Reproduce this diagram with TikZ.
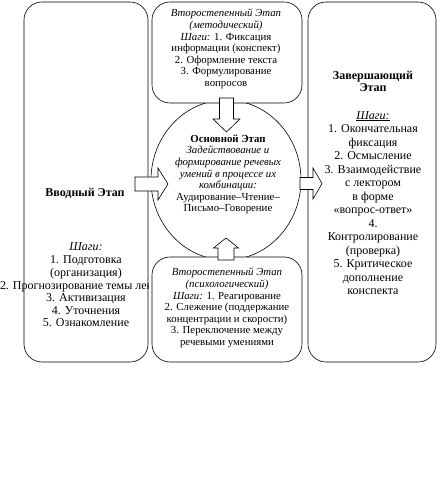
\documentclass[tikz,border=0pt]{standalone}
\usepackage{fontspec}
\setmainfont{Liberation Serif}
\usetikzlibrary{shapes.geometric}

\begin{document}
\begin{tikzpicture}[x=1pt,y=1pt,
  stagebox/.style={draw=drawColor,line width=0.6pt,fill=fillColor,rounded corners=18pt,inner sep=0pt,outer sep=0pt},
  corestage/.style={ellipse,draw=drawColor,line width=0.6pt,fill=fillColor,inner sep=0pt,outer sep=0pt},
  blockarrow/.style={draw=drawColor,line width=0.6pt,fill=fillColor,line join=miter},
  sidetext/.style={text=drawColor,align=center,inner sep=0pt,outer sep=0pt,font=\fontsize{12}{12.7}\selectfont},
  midtext/.style={text=drawColor,align=center,inner sep=0pt,outer sep=0pt,font=\fontsize{10.8}{11.6}\selectfont}
]
\definecolor{fillColor}{RGB}{255,255,255}
\definecolor{drawColor}{RGB}{0,0,0}
\path[use as bounding box,fill=fillColor] (0,0) rectangle (440,488);

% main stage, behind the two small boxes
\node[corestage,minimum width=150pt,minimum height=160pt] (core) at (226,308) {};

% the four boxes
\node[stagebox,minimum width=124pt,minimum height=360pt] (intro) at (86,306) {};
\node[stagebox,minimum width=150pt,minimum height=101pt] (method) at (227,435.5) {};
\node[stagebox,minimum width=150pt,minimum height=105pt] (psych) at (227,178.5) {};
\node[stagebox,minimum width=128pt,minimum height=360pt] (final) at (372,306) {};

% block arrows, from a named tail
\coordinate (introtail) at (135,304);
\coordinate (coretail) at (300,304.5);
\coordinate (methodtail) at (226.5,390);
\coordinate (psychtail) at (226,228);

\path[blockarrow] ([yshift=-7]introtail) -- ++(23,0) -- ++(0,-9) -- ++(10,16) -- ++(-10,16) -- ++(0,-9) -- ++(-23,0) -- cycle;
\path[blockarrow] ([yshift=-6]coretail) -- ++(13,0) -- ++(0,-9.5) -- ++(9,15.5) -- ++(-9,15.5) -- ++(0,-9.5) -- ++(-13,0) -- cycle;
\path[blockarrow] ([xshift=-7]methodtail) -- ++(0,-21) -- ++(-6.5,0) -- ++(13.5,-13) -- ++(13.5,13) -- ++(-6.5,0) -- ++(0,21) -- cycle;
\path[blockarrow] ([xshift=-8]psychtail) -- ++(0,12) -- ++(-4.5,0) -- ++(12.5,10) -- ++(12.5,-10) -- ++(-4.5,0) -- ++(0,-12) -- cycle;

% texts
\node[sidetext] (introtitle) at (85,295) {\textbf{Вводный Этап}};
\node[sidetext] (introsteps) at (86,203) {\textit{Шаги:}\\1. Подготовка\\(организация)\\\mbox{}\\3. Активизация\\4. Уточнения\\5. Ознакомление};
\begin{scope}
\path[clip] (0,0) rectangle (148,488);
\node[sidetext,anchor=west] (introlong) at (0,201) {2. Прогнозирование темы лек};
\end{scope}

\node[midtext] (methodtext) at (226,439) {\textit{Второстепенный Этап}\\\textit{(методический)}\\\textit{Шаги:} 1. Фиксация\\информации (конспект)\\2. Оформление текста\\3. Формулирование\\вопросов};

\node[midtext] (coretext) at (228,313.5) {\textbf{Основной Этап}\\\textit{Задействование и}\\\textit{формирование речевых}\\\textit{умений в процессе их}\\\textit{комбинации:}\\Аудирование–Чтение–\\Письмо–Говорение};

\node[midtext] (psychtext) at (227,180) {\textit{Второстепенный Этап}\\\textit{(психологический)}\\\textit{Шаги:} 1. Реагирование\\2. Слежение (поддержание\\концентрации и скорости)\\3. Переключение между\\речевыми умениями};

\node[sidetext] (finaltitle) at (373,406.5) {\textbf{Завершающий}\\\textbf{Этап}};
\node[sidetext,font=\fontsize{12}{13.5}\selectfont] (finalsteps) at (373,285) {\underline{\textit{Шаги:}}\\1. Окончательная\\фиксация\\2. Осмысление\\3. Взаимодействие\\с лектором\\в форме\\«вопрос-ответ»\\4.\\Контролирование\\(проверка)\\5. Критическое\\дополнение\\конспекта};
\end{tikzpicture}
\end{document}
